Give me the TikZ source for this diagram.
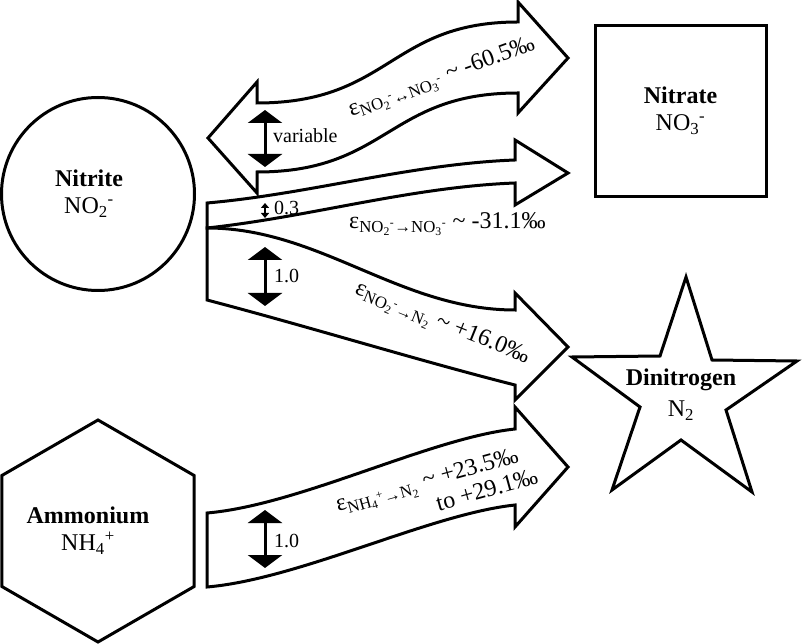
\documentclass[tikz,border=0pt]{standalone}
\usepackage{fontspec}
\setmainfont{Liberation Serif}
\usetikzlibrary{shapes.geometric,arrows.meta}

\begin{document}
\begin{tikzpicture}[x=1pt,y=1pt,
    ribbon/.style={draw,line width=3pt,fill=white},
    species/.style={draw,line width=3pt,inner sep=0pt},
    spname/.style={align=center,font=\fontsize{24}{27}\selectfont},
    flux/.style={line width=3pt,{Triangle[width=34pt,length=13pt]}-{Triangle[width=34pt,length=13pt]}},
    smallflux/.style={line width=1.5pt,{Triangle[width=8pt,length=5pt]}-{Triangle[width=8pt,length=5pt]}},
    ratio/.style={anchor=base west,inner sep=0pt,font=\fontsize{20}{24}\selectfont},
    epslabel/.style={inner sep=0pt,font=\fontsize{24}{28}\selectfont}]
\useasboundingbox (0,0) rectangle (802,643);
% species
\node[species,circle,minimum size=193pt] (nitrite) at (98,449) {};
\node[spname,xshift=-9pt] (nitrite-text) at (nitrite) {\textbf{Nitrite}\\NO\textsubscript{2}\textsuperscript{-}};
\node[species,rectangle,minimum size=171pt] (nitrate) at (680.5,532) {};
\node[spname] (nitrate-text) at (nitrate) {\textbf{Nitrate}\\NO\textsubscript{3}\textsuperscript{-}};
\node[species,regular polygon,regular polygon sides=6,shape border rotate=30,minimum size=222pt] (ammonium) at (98,112) {};
\node[spname,xshift=-10pt] (ammonium-text) at (ammonium) {\textbf{Ammonium}\\NH\textsubscript{4}\textsuperscript{+}};
\draw[species,line join=miter] (686,366) -- (712,283) -- (797,282) -- (726,233) -- (752,151)
  -- (681,203) -- (612,153) -- (640,236) -- (572,286) -- (660,287) -- cycle;
\node[spname] (dinitrogen) at (681,248) {\textbf{Dinitrogen}\\[4pt]N\textsubscript{2}};
% nitrite <-> nitrate
\draw[ribbon] (208,505) -- (257,561) -- (257,540)
  .. controls (390,540) and (390,621) .. (518,621)
  -- (518,641) -- (568,585) -- (518,530) -- (518,550)
  .. controls (388,550) and (388,471) .. (257,471)
  -- (257,450) -- cycle;
% nitrite -> nitrate
\draw[ribbon] (207,440) .. controls (310,449) and (410,479) .. (515,483)
  -- (515,503) -- (568,470) -- (515,438) -- (515,460)
  .. controls (410,456) and (310,426) .. (207,415) -- cycle;
% nitrite -> dinitrogen
\draw[ribbon] (207,415) .. controls (320,415) and (400,333) .. (515,333)
  -- (515,350) -- (568,296) -- (515,243) -- (515,258)
  .. controls (420,282) and (310,316) .. (207,343) -- cycle;
% ammonium -> dinitrogen
\draw[ribbon] (207,130) .. controls (300,138) and (430,205) .. (515,214)
  -- (515,236) -- (568,176) -- (515,116) -- (515,138)
  .. controls (430,129) and (300,64) .. (207,56) -- cycle;
% relative fluxes
\coordinate (var-top) at (265,533);
\coordinate (var-bot) at (265,476);
\draw[flux] (var-top) -- (var-bot);
\node[ratio] (var-label) at (273,500) {variable};
\coordinate (no3-top) at (265,440);
\coordinate (no3-bot) at (265,425);
\draw[smallflux] (no3-top) -- (no3-bot);
\node[ratio] (no3-label) at (274,428) {0.3};
\coordinate (n2-top) at (265,396);
\coordinate (n2-bot) at (265,337);
\draw[flux] (n2-top) -- (n2-bot);
\node[ratio] (n2-label) at (274,360) {1.0};
\coordinate (nh4-top) at (265,133);
\coordinate (nh4-bot) at (265,75);
\draw[flux] (nh4-top) -- (nh4-bot);
\node[ratio] (nh4-label) at (274,96) {1.0};
% fractionation factors
\node[epslabel,rotate=20] (eps-rev) at (442,565) {ε\textsubscript{NO\textsubscript{2}\textsuperscript{-}↔NO\textsubscript{3}\textsuperscript{-}} \textasciitilde{} -60.5‰};
\node[epslabel,anchor=base west] (eps-ox) at (349,414) {ε\textsubscript{NO\textsubscript{2}\textsuperscript{-}→NO\textsubscript{3}\textsuperscript{-}} \textasciitilde{} -31.1‰};
\node[epslabel,rotate=-22] (eps-red) at (442,319) {ε\textsubscript{NO\textsubscript{2}\textsuperscript{-}→N\textsubscript{2}} \textasciitilde{} +16.0‰};
\begin{scope}[shift={(338,131)},rotate=15.5,transform shape]
\node[epslabel,anchor=base west] (eps-amx) at (0,0) {ε\textsubscript{NH\textsubscript{4}\textsuperscript{+}→N\textsubscript{2}} \textasciitilde{} +23.5‰};
\node[epslabel,anchor=base west] (eps-amx-2) at (97,-26) {to +29.1‰};
\end{scope}
\end{tikzpicture}
\end{document}
